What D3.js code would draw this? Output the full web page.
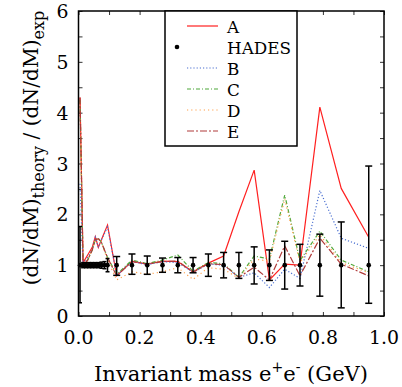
<!DOCTYPE html>
<html>
<head>
<meta charset="utf-8">
<script src="https://cdn.jsdelivr.net/npm/d3@7"></script>
<style>
  html, body { margin: 0; padding: 0; background: #fff; overflow: hidden; }
  svg { display: block; }
</style>
</head>
<body>
<div id="chart"></div>
<script>
// data
const hadesX = [0.005, 0.015, 0.025, 0.035, 0.045, 0.055, 0.065, 0.075, 0.085, 0.095,
  0.125, 0.175, 0.225, 0.275, 0.325, 0.375, 0.425, 0.475, 0.525, 0.575, 0.625, 0.675, 0.725, 0.79, 0.86, 0.95];
const hadesY = hadesX.map(() => 1);
const hadesHi = [1.76, 1.05, 1.05, 1.05, 1.05, 1.05, 1.05, 1.06, 1.07, 1.13,
  1.17, 1.22, 1.18, 1.14, 1.15, 1.15, 1.22, 1.25, 1.25, 1.36, 1.3, 1.47, 1.41, 1.61, 1.85, 2.95];
const hadesLo = [0.26, 0.95, 0.95, 0.95, 0.95, 0.95, 0.95, 0.94, 0.93, 0.87,
  0.8, 0.82, 0.82, 0.86, 0.85, 0.85, 0.78, 0.75, 0.74, 0.63, 0.7, 0.53, 0.59, 0.39, 0.16, 0.25];

const modelX = [0.005, 0.015, 0.03, 0.045, 0.055, 0.065, 0.075, 0.095,
  0.125, 0.175, 0.225, 0.275, 0.325, 0.375, 0.425, 0.475, 0.525, 0.575, 0.625, 0.675, 0.725, 0.79, 0.86, 0.95];
const seriesA = [4.3, 1.05, 1.2, 1.35, 1.56, 1.35, 1.5, 1.79,
  0.79, 1.08, 1.02, 1.08, 1.07, 0.87, 1.04, 1.18, 2.05, 2.87, 0.71, 1.02, 1.0, 4.11, 2.51, 1.55];
const seriesB = [2.6, 1.0, 1.15, 1.3, 1.55, 1.35, 1.5, 1.75,
  0.8, 1.07, 1.01, 1.07, 1.05, 0.86, 1.02, 1.0, 0.76, 0.85, 0.56, 0.92, 0.74, 2.47, 1.53, 1.33];
const seriesC = [4.25, 1.0, 1.1, 1.3, 1.5, 1.53, 1.45, 1.15,
  0.82, 1.1, 1.03, 1.1, 1.2, 0.88, 1.05, 1.03, 0.76, 1.18, 1.12, 2.38, 1.09, 1.67, 1.1, 0.87];
const seriesD = [4.2, 1.0, 1.1, 1.3, 1.5, 1.5, 1.45, 1.1,
  0.71, 0.87, 0.82, 0.87, 0.95, 0.72, 0.95, 0.92, 0.74, 1.12, 1.08, 2.3, 1.05, 1.6, 1.05, 0.85];
const seriesE = [4.3, 1.0, 1.1, 1.3, 1.5, 1.52, 1.45, 1.15,
  0.79, 1.07, 1.02, 1.07, 1.08, 0.86, 1.03, 1.01, 0.76, 0.96, 0.71, 1.38, 0.79, 1.53, 1.02, 0.79];

const seriesNames = ['A', 'B', 'C', 'D', 'E'];
const seriesValues = [seriesA, seriesB, seriesC, seriesD, seriesE];
const seriesColors = ['#ff2020', '#4a6fd0', '#4fa83a', '#ffa04a', '#b03a3a'];
const seriesDash = ['none', '1.2,2', '4,2,1,2', '1.2,3', '7,2,2,2'];

const xTicks = [0, 0.2, 0.4, 0.6, 0.8, 1.0];
const yTicks = [0, 1, 2, 3, 4, 5, 6];

const serif = "'DejaVu Serif', serif";

const width = 402, height = 387;
const margin = {top: 11, right: 18, bottom: 71, left: 78.5};
const innerWidth = width - margin.left - margin.right;
const innerHeight = height - margin.top - margin.bottom;

const svg = d3.select('#chart').append('svg')
    .attr('width', width)
    .attr('height', height)
    .style('font-family', serif);

// pick a font size so that a sample string has the width seen in the picture
function fitSize(sample, target) {
  const t = svg.append('text').style('font-size', '20px').text(sample);
  const w = t.node().getComputedTextLength();
  t.remove();
  return 20 * target / w;
}
const tickSize = fitSize('0.0', 30);
const legSize = fitSize('HADES', 64);

const g = svg.append('g')
    .attr('transform', `translate(${margin.left},${margin.top})`);

const x = d3.scaleLinear().domain([0, 1]).range([0, innerWidth]);
const y = d3.scaleLinear().domain([0, 6]).range([innerHeight, 0]);

// inward ticks on all four sides
const minorX = d3.range(0, 1.0001, 0.1);
const minorY = d3.range(0, 6.0001, 0.5);
g.append('g').attr('transform', `translate(0,${innerHeight})`)
    .call(d3.axisBottom(x).tickValues(minorX).tickSize(-4).tickFormat(''));
g.append('g')
    .call(d3.axisTop(x).tickValues(minorX).tickSize(-4).tickFormat(''));
g.append('g')
    .call(d3.axisLeft(y).tickValues(minorY).tickSize(-4).tickFormat(''));
g.append('g').attr('transform', `translate(${innerWidth},0)`)
    .call(d3.axisRight(y).tickValues(minorY).tickSize(-4).tickFormat(''));
g.selectAll('.domain').remove();
g.selectAll('.tick line').attr('stroke', '#333').attr('stroke-width', 1);

// tick labels
g.append('g').selectAll('text').data(xTicks).enter().append('text')
    .attr('x', d => x(d))
    .attr('y', innerHeight + 28)
    .attr('text-anchor', 'middle')
    .style('font-size', tickSize + 'px')
    .text(d => d.toFixed(1));
g.append('g').selectAll('text').data(yTicks).enter().append('text')
    .attr('x', -10)
    .attr('y', d => y(d) + 7)
    .attr('text-anchor', 'end')
    .style('font-size', tickSize + 'px')
    .text(d => d);

const plot = g.append('g');

// model curves
const line = d3.line()
    .x((d, i) => x(modelX[i]))
    .y(d => y(d));
seriesValues.forEach((vals, k) => {
  plot.append('path')
      .attr('d', line(vals))
      .attr('fill', 'none')
      .attr('stroke', seriesColors[k])
      .attr('stroke-width', 1.2)
      .attr('stroke-dasharray', seriesDash[k]);
});

// HADES points with error bars
const pts = plot.selectAll('.hades').data(hadesX).enter().append('g');
pts.append('line')
    .attr('x1', d => x(d)).attr('x2', d => x(d))
    .attr('y1', (d, i) => y(hadesHi[i]))
    .attr('y2', (d, i) => y(hadesLo[i]))
    .attr('stroke', '#000').attr('stroke-width', 1.5);
[hadesHi, hadesLo].forEach(ends => {
  pts.append('line')
      .attr('x1', d => x(d) - (d < 0.1 ? 2 : 3.5))
      .attr('x2', d => x(d) + (d < 0.1 ? 2 : 3.5))
      .attr('y1', (d, i) => y(ends[i]))
      .attr('y2', (d, i) => y(ends[i]))
      .attr('stroke', '#000').attr('stroke-width', 1.5);
});
pts.append('circle')
    .attr('cx', d => x(d))
    .attr('cy', (d, i) => y(hadesY[i]))
    .attr('r', 2.3)
    .attr('fill', '#000');

// frame
g.append('rect')
    .attr('width', innerWidth).attr('height', innerHeight)
    .attr('fill', 'none').attr('stroke', '#000').attr('stroke-width', 1.5);

// legend
const leg = svg.append('g');
leg.append('rect')
    .attr('x', 165).attr('y', 11)
    .attr('width', 132).attr('height', 135)
    .attr('fill', '#fff').attr('stroke', '#000').attr('stroke-width', 1.5);
const legItems = ['A', 'HADES', 'B', 'C', 'D', 'E'];
legItems.forEach((name, i) => {
  const ly = 26 + i * 21;
  const k = seriesNames.indexOf(name);
  if (k >= 0) {
    leg.append('line')
        .attr('x1', 187).attr('x2', 218).attr('y1', ly).attr('y2', ly)
        .attr('stroke', seriesColors[k]).attr('stroke-width', 1.2)
        .attr('stroke-dasharray', seriesDash[k]);
  } else {
    leg.append('circle').attr('cx', 177).attr('cy', ly).attr('r', 2.3).attr('fill', '#000');
  }
  leg.append('text')
      .attr('x', 227).attr('y', ly + 7)
      .style('font-size', legSize + 'px')
      .text(name);
});

// axis titles
const xt = svg.append('text')
    .attr('x', 231).attr('y', 381)
    .attr('text-anchor', 'middle')
    .style('font-size', '24px');
xt.append('tspan').text('Invariant mass e');
xt.append('tspan').attr('dy', -9).style('font-size', '14px').text('+');
xt.append('tspan').attr('dy', 9).text('e');
xt.append('tspan').attr('dy', -9).style('font-size', '14px').text('-');
xt.append('tspan').attr('dy', 9).text(' (GeV)');
const xw = xt.node().getComputedTextLength();
xt.style('font-size', (24 * 272 / xw) + 'px');

const yt = svg.append('text')
    .attr('transform', 'translate(38,148) rotate(-90)')
    .attr('text-anchor', 'middle')
    .style('font-size', '24px');
yt.append('tspan').text('(dN/dM)');
yt.append('tspan').attr('dy', 6).style('font-size', '16px').text('theory');
yt.append('tspan').attr('dy', -6).text(' / (dN/dM)');
yt.append('tspan').attr('dy', 6).style('font-size', '16px').text('exp');
const yw = yt.node().getComputedTextLength();
yt.style('font-size', (24 * 262 / yw) + 'px');
</script>
</body>
</html>
